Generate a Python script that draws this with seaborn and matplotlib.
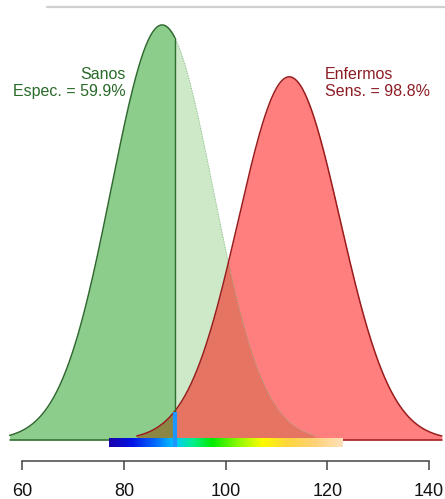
import matplotlib
matplotlib.use("Agg")
import matplotlib.pyplot as plt
from matplotlib.colors import LinearSegmentedColormap
from matplotlib.lines import Line2D
import numpy as np
import seaborn as sns

# ------------------- data

groups = ["Sanos", "Enfermos"]
means = [87.5, 112.5]
sds = [10.0, 10.0]
heights = [1.0, 0.875]          # relative peak scaling
cutoff = 90.0
labels = ["Sanos\nEspec. = 59.9%", "Enfermos\nSens. = 98.8%"]
label_x = [80.4, 119.5]

bar_range = [77.0, 123.0]
bar_stops = [0.0, 0.1, 0.2, 0.28, 0.36, 0.44, 0.56, 0.66, 0.76, 0.88, 1.0]
bar_colors = ["#1900aa", "#0014e6", "#006eff", "#00c8ff", "#00f08c", "#00eb00",
              "#96fa00", "#fffa00", "#ffd73c", "#ffd278", "#ffe1b9"]

x_ticks = [60, 80, 100, 120, 140]

# ------------------- plot

sns.set_theme(style="white")
plt.rcParams["font.family"] = ["Liberation Sans", "DejaVu Sans"]

fig = plt.figure(figsize=(4.45, 4.99), dpi=100)
ax = fig.add_axes([0, 38 / 499, 1, 461 / 499])

yr = 0.04431
ax.set_xlim(55.61, 143.13)
ax.set_ylim(-0.002019, -0.002019 + yr)


def curve(m, s, h):
    xs = np.linspace(m - 3 * s, m + 3 * s, 400)
    ys = h * np.exp(-0.5 * ((xs - m) / s) ** 2) / (s * np.sqrt(2 * np.pi))
    return xs, ys


gx, gy = curve(means[0], sds[0], heights[0])
rx, ry = curve(means[1], sds[1], heights[1])
left = gx <= cutoff
right = gx >= cutoff

# light green part beyond the cutoff
ax.fill_between(gx[right], 0, gy[right], color="#cde9c8", lw=0, zorder=1)
# red (enfermos)
ax.fill_between(rx, 0, ry, color=(1, 0, 0, 0.5), lw=0, zorder=2)
# dark green part before the cutoff
ax.fill_between(gx[left], 0, gy[left], color=(0, 0.565, 0, 0.45), lw=0, zorder=3)

sns.lineplot(x=gx[left], y=gy[left], ax=ax, color="#2f6a2f", lw=1.1, zorder=4, sort=False)
sns.lineplot(x=gx[right], y=gy[right], ax=ax, color="#8fb88f", lw=0.7, ls=":", zorder=4, sort=False)
sns.lineplot(x=rx, y=ry, ax=ax, color="#9b1c1c", lw=1.1, zorder=4, sort=False)
ax.plot([gx[0], cutoff], [0, 0], color="#2f6a2f", lw=1.1, zorder=4)
ax.plot([rx[0], rx[-1]], [0, 0], color="#9b1c1c", lw=1.1, zorder=4)
gcut = heights[0] * np.exp(-0.5 * ((cutoff - means[0]) / sds[0]) ** 2) / (sds[0] * np.sqrt(2 * np.pi))
ax.plot([cutoff, cutoff], [0, gcut], color="#2f6a2f", lw=1.0, zorder=4)

# gradient bar
cmap = LinearSegmentedColormap.from_list("bar", list(zip(bar_stops, bar_colors)))
grad = np.linspace(0, 1, 256).reshape(1, -1)
ax.imshow(grad, cmap=cmap, aspect="auto", zorder=5,
          extent=(bar_range[0], bar_range[1], -0.000673, 0.000096))

# cutoff marker
ax.plot([cutoff, cutoff], [-0.000673, 0.00269], color="#1e96ff", lw=3, zorder=6,
        solid_capstyle="butt")

for i, txt in enumerate(labels):
    ax.text(label_x[i], 0.03431, txt, ha="right" if i == 0 else "left", va="center",
            multialignment="right" if i == 0 else "left", fontsize=11.5,
            color="#2a6a2a" if i == 0 else "#8c1c24", linespacing=1.2)

for s in ["left", "top", "right"]:
    ax.spines[s].set_visible(False)
ax.spines["bottom"].set_bounds(60, 140)
ax.spines["bottom"].set_color("#444444")
ax.spines["bottom"].set_linewidth(1.1)
ax.set_xticks(x_ticks)
ax.set_yticks([])
ax.tick_params(axis="x", bottom=True, length=6.7, width=1.1, color="#444444",
               labelsize=13, pad=9, labelcolor="#111111")
ax.set_xlabel("")
ax.set_ylabel("")

fig.add_artist(Line2D([47 / 445, 1], [1 - 7 / 499, 1 - 7 / 499], color="#cfcfcf", lw=1.6))

fig.savefig("out.png", dpi=100)
